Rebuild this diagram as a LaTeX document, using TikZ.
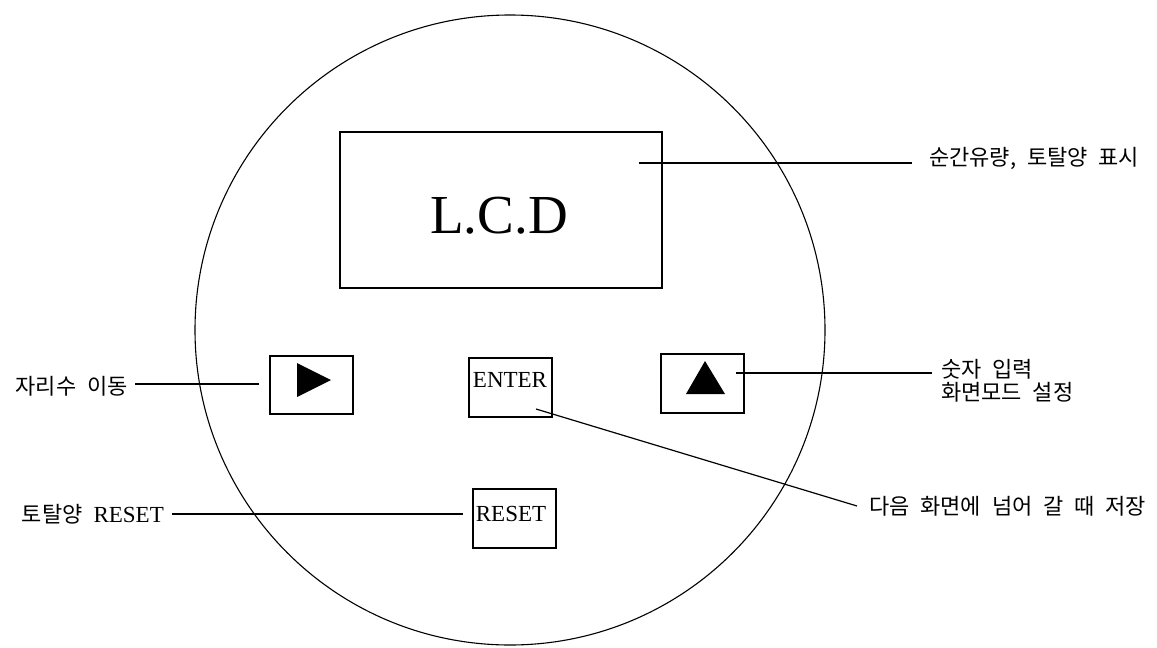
\documentclass[tikz,border=0pt]{standalone}
\usepackage{fontspec}
\setmainfont{Liberation Serif}
\newfontfamily\kr[WordSpace=2.2]{Noto Sans CJK KR}
\begin{document}
\begin{tikzpicture}[x=1pt,y=-1pt,
  box/.style={draw, line width=1.5pt, inner sep=0pt, anchor=north west},
  lbl/.style={font=\kr\fontsize{22}{22.5}\selectfont, inner sep=0pt},
  btn/.style={font=\fontsize{23}{24}\selectfont, inner sep=0pt},
  lead/.style={line width=1.2pt},
  tri/.style={fill=black}]
\useasboundingbox (0,0) rectangle (1157,648);
% dial
\node[draw, circle, minimum size=630pt, inner sep=0pt, line width=1.1pt] (dial) at (510,330) {};
% LCD
\node[box, minimum width=322pt, minimum height=156pt] (lcd) at (339,131) {};
\node[font=\fontsize{55}{60}\selectfont, inner sep=0pt] (lcdtxt) at (499,216) {L.C.D};
% buttons
\node[box, minimum width=83pt, minimum height=58pt] (right) at (269,355) {};
\fill[tri] (297,363) -- (297,397) -- (331,380) -- cycle;
\node[box, minimum width=83pt, minimum height=59pt] (enter) at (468,357) {};
\node[btn] (entertxt) at (510,380) {ENTER};
\node[box, minimum width=83pt, minimum height=59pt] (up) at (660,353) {};
\fill[tri] (705,361) -- (686,394) -- (725,394) -- cycle;
\node[box, minimum width=83pt, minimum height=59pt] (reset) at (472,488) {};
\node[btn] (resettxt) at (511,514) {RESET};
% labels
\node[lbl, anchor=west] (l1) at (929,158) {순간유량, 토탈양 표시};
\node[lbl, anchor=east] (l2) at (128,386) {자리수 이동};
\node[lbl, anchor=west, align=left] (l3) at (941,381) {숫자 입력\\화면모드 설정};
\node[lbl, anchor=west] (l4) at (869,506) {다음 화면에 넘어 갈 때 저장};
\node[lbl, anchor=east] (l5) at (164,514) {토탈양 {\rmfamily\fontsize{23}{24}\selectfont RESET}};
% leader end points
\coordinate (a1) at (639,163); \coordinate (b1) at (912,163);
\coordinate (a2) at (259,384); \coordinate (b2) at (135,384);
\coordinate (a3) at (736,373); \coordinate (b3) at (932,373);
\coordinate (a4) at (536,409); \coordinate (b4) at (857,506);
\coordinate (a5) at (463,514); \coordinate (b5) at (172,514);
\draw[lead] (a1) -- (b1);
\draw[lead] (a2) -- (b2);
\draw[lead] (a3) -- (b3);
\draw[lead] (a4) -- (b4);
\draw[lead] (a5) -- (b5);
\end{tikzpicture}
\end{document}
